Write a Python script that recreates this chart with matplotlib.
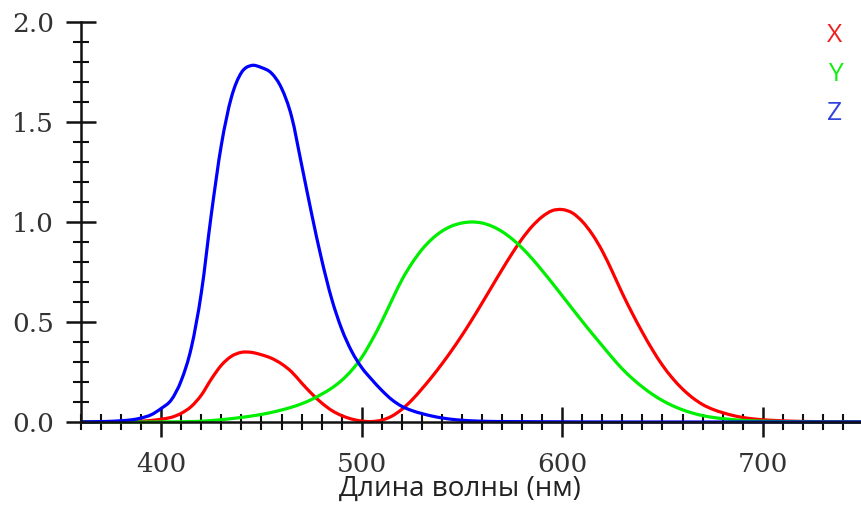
import numpy as np
import matplotlib.pyplot as plt
from matplotlib.path import Path
from matplotlib.patches import PathPatch
from matplotlib.ticker import MultipleLocator, FormatStrFormatter

# CIE 1931 colour matching functions, 5 nm step
wavelength = list(range(360, 755, 5))
x_bar = [0.000130, 0.000232, 0.000415, 0.000742, 0.001368, 0.002236, 0.004243, 0.007650,
         0.014310, 0.023190, 0.043510, 0.077630, 0.134380, 0.214770, 0.283900, 0.328500,
         0.348280, 0.348060, 0.336200, 0.318700, 0.290800, 0.251100, 0.195360, 0.142100,
         0.095640, 0.057950, 0.032010, 0.014700, 0.004900, 0.002400, 0.009300, 0.029100,
         0.063270, 0.109600, 0.165500, 0.225750, 0.290400, 0.359700, 0.433450, 0.512050,
         0.594500, 0.678400, 0.762100, 0.842500, 0.916300, 0.978600, 1.026300, 1.056700,
         1.062200, 1.045600, 1.002600, 0.938400, 0.854450, 0.751400, 0.642400, 0.541900,
         0.447900, 0.360800, 0.283500, 0.218700, 0.164900, 0.121200, 0.087400, 0.063600,
         0.046770, 0.032900, 0.022700, 0.015840, 0.011359, 0.008111, 0.005790, 0.004109,
         0.002899, 0.002049, 0.001440, 0.001000, 0.000690, 0.000476, 0.000332]
y_bar = [0.000004, 0.000007, 0.000012, 0.000022, 0.000039, 0.000064, 0.000120, 0.000217,
         0.000396, 0.000640, 0.001210, 0.002180, 0.004000, 0.007300, 0.011600, 0.016840,
         0.023000, 0.029800, 0.038000, 0.048000, 0.060000, 0.073900, 0.090980, 0.112600,
         0.139020, 0.169300, 0.208020, 0.258600, 0.323000, 0.407300, 0.503000, 0.608200,
         0.710000, 0.793200, 0.862000, 0.914850, 0.954000, 0.980300, 0.994950, 1.000000,
         0.995000, 0.978600, 0.952000, 0.915400, 0.870000, 0.816300, 0.757000, 0.694900,
         0.631000, 0.566800, 0.503000, 0.441200, 0.381000, 0.321000, 0.265000, 0.217000,
         0.175000, 0.138200, 0.107000, 0.081600, 0.061000, 0.044580, 0.032000, 0.023200,
         0.017000, 0.011920, 0.008210, 0.005723, 0.004102, 0.002929, 0.002091, 0.001484,
         0.001047, 0.000740, 0.000520, 0.000361, 0.000249, 0.000172, 0.000120]
z_bar = [0.000606, 0.001086, 0.001946, 0.003486, 0.006450, 0.010550, 0.020050, 0.036210,
         0.067850, 0.110200, 0.207400, 0.371300, 0.645600, 1.039050, 1.385600, 1.622960,
         1.747060, 1.782600, 1.772110, 1.744100, 1.669200, 1.528100, 1.287640, 1.041900,
         0.812950, 0.616200, 0.465180, 0.353300, 0.272000, 0.212300, 0.158200, 0.111700,
         0.078250, 0.057250, 0.042160, 0.029840, 0.020300, 0.013400, 0.008750, 0.005750,
         0.003900, 0.002750, 0.002100, 0.001800, 0.001650, 0.001400, 0.001100, 0.001000,
         0.000800, 0.000600, 0.000340, 0.000240, 0.000190, 0.000100, 0.000050, 0.000030,
         0.000020, 0.000010, 0, 0, 0, 0, 0, 0,
         0, 0, 0, 0, 0, 0, 0, 0,
         0, 0, 0, 0, 0, 0, 0]

labels = ['X', 'Y', 'Z']
colors = ['#ff0000', '#00ee00', '#0000ff']
label_colors = ['#ee2222', '#11ee11', '#3344dd']


def smooth_path(xs, ys):
    # Catmull-Rom through the data points, drawn as cubic Bezier segments
    p = np.column_stack([xs, ys]).astype(float)
    verts = [p[0]]
    codes = [Path.MOVETO]
    n = len(p)
    for i in range(n - 1):
        p0 = p[max(i - 1, 0)]
        p1 = p[i]
        p2 = p[i + 1]
        p3 = p[min(i + 2, n - 1)]
        verts += [p1 + (p2 - p0) / 6, p2 - (p3 - p1) / 6, p2]
        codes += [Path.CURVE4] * 3
    return Path(verts, codes)


fig = plt.figure(figsize=(8.61, 5.05), dpi=100)
ax = fig.add_axes([81 / 861, 1 - 422 / 505, 1 - 81 / 861, 400 / 505])

for vals, c in zip([x_bar, y_bar, z_bar], colors):
    patch = PathPatch(smooth_path(wavelength, vals), facecolor='none', edgecolor=c,
                      lw=2.3, clip_on=False, zorder=2)
    ax.add_patch(patch)

ax.set_xlim(360, 749)
ax.set_ylim(0, 2.0)

for s in ['top', 'right']:
    ax.spines[s].set_visible(False)
for s in ['left', 'bottom']:
    ax.spines[s].set_linewidth(1.8)
    ax.spines[s].set_color('#111111')
    ax.spines[s].set_zorder(3)

ax.xaxis.set_major_locator(MultipleLocator(100))
ax.xaxis.set_minor_locator(MultipleLocator(10))
ax.yaxis.set_major_locator(MultipleLocator(0.5))
ax.yaxis.set_minor_locator(MultipleLocator(0.1))
ax.yaxis.set_major_formatter(FormatStrFormatter('%.1f'))

ax.tick_params(which='major', direction='inout', length=21, width=1.8, color='#111111',
               labelsize=19, labelcolor='#333333')
ax.tick_params(axis='x', which='major', pad=11)
ax.tick_params(axis='y', which='major', pad=9)
ax.tick_params(which='minor', direction='inout', length=11, width=1.5, color='#111111')
for lab in ax.get_xticklabels() + ax.get_yticklabels():
    lab.set_family('DejaVu Serif')

ax.set_xlabel('Длина волны (нм)', fontsize=20, family='Open Sans', color='#222222')
ax.xaxis.set_label_coords((460 - 81) / 780, -0.132)

for i, (t, c) in enumerate(zip(labels, label_colors)):
    fig.text(835 / 861, 1 - (36 + i * 38.5) / 505, t, color=c, fontsize=19, family='Open Sans',
             ha='center', va='center')

fig.savefig('out.png', dpi=100)
